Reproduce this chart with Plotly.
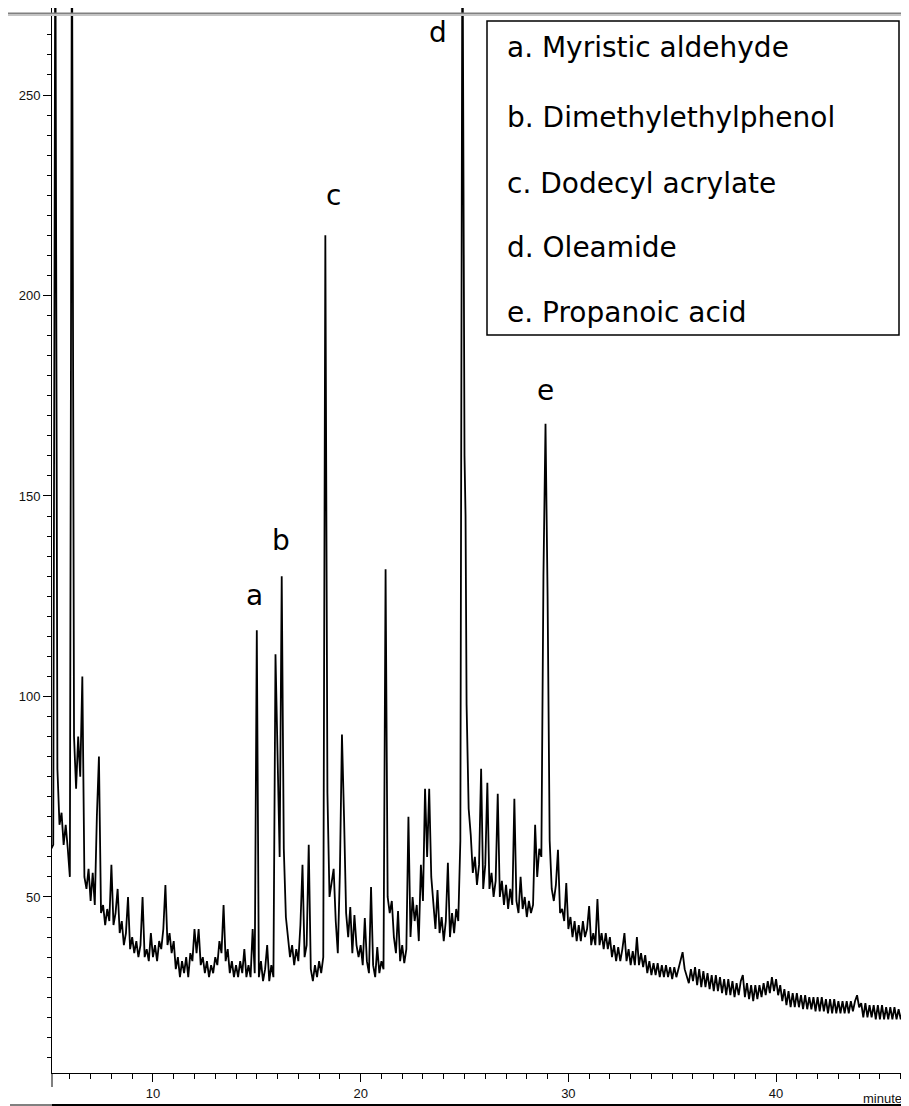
import plotly.graph_objects as go

# retention time (min) and detector response
time_min = [
    5.1, 5.2, 5.3, 5.4, 5.5, 5.6, 5.7, 5.8, 5.9, 6.0,
    6.1, 6.2, 6.3, 6.4, 6.5, 6.6, 6.7, 6.8, 6.9, 7.0,
    7.1, 7.2, 7.3, 7.4, 7.5, 7.6, 7.7, 7.8, 7.9, 8.0,
    8.1, 8.2, 8.3, 8.4, 8.5, 8.6, 8.7, 8.8, 8.9, 9.0,
    9.1, 9.2, 9.3, 9.4, 9.5, 9.6, 9.7, 9.8, 9.9, 10.0,
    10.1, 10.2, 10.3, 10.4, 10.5, 10.6, 10.7, 10.8, 10.9, 11.0,
    11.1, 11.2, 11.3, 11.4, 11.5, 11.6, 11.7, 11.8, 11.9, 12.0,
    12.1, 12.2, 12.3, 12.4, 12.5, 12.6, 12.7, 12.8, 12.9, 13.0,
    13.1, 13.2, 13.3, 13.4, 13.5, 13.6, 13.7, 13.8, 13.9, 14.0,
    14.1, 14.2, 14.3, 14.4, 14.5, 14.6, 14.7, 14.8, 14.9, 15.0,
    15.1, 15.2, 15.3, 15.4, 15.5, 15.6, 15.7, 15.8, 15.9, 16.0,
    16.1, 16.2, 16.3, 16.4, 16.5, 16.6, 16.7, 16.8, 16.9, 17.0,
    17.1, 17.2, 17.3, 17.4, 17.5, 17.6, 17.7, 17.8, 17.9, 18.0,
    18.1, 18.2, 18.3, 18.4, 18.5, 18.6, 18.7, 18.8, 18.9, 19.0,
    19.1, 19.2, 19.3, 19.4, 19.5, 19.6, 19.7, 19.8, 19.9, 20.0,
    20.1, 20.2, 20.3, 20.4, 20.5, 20.6, 20.7, 20.8, 20.9, 21.0,
    21.1, 21.2, 21.3, 21.4, 21.5, 21.6, 21.7, 21.8, 21.9, 22.0,
    22.1, 22.2, 22.3, 22.4, 22.5, 22.6, 22.7, 22.8, 22.9, 23.0,
    23.1, 23.2, 23.3, 23.4, 23.5, 23.6, 23.7, 23.8, 23.9, 24.0,
    24.1, 24.2, 24.3, 24.4, 24.5, 24.6, 24.7, 24.8, 24.9, 25.0,
    25.05, 25.1, 25.2, 25.3, 25.4, 25.5, 25.6, 25.7, 25.8, 25.9, 26.0,
    26.1, 26.2, 26.3, 26.4, 26.5, 26.6, 26.7, 26.8, 26.9, 27.0,
    27.1, 27.2, 27.3, 27.4, 27.5, 27.6, 27.7, 27.8, 27.9, 28.0,
    28.1, 28.2, 28.3, 28.4, 28.5, 28.6, 28.7, 28.8, 28.9, 29.0,
    29.1, 29.2, 29.3, 29.4, 29.5, 29.6, 29.7, 29.8, 29.9, 30.0,
    30.1, 30.2, 30.3, 30.4, 30.5, 30.6, 30.7, 30.8, 30.9, 31.0,
    31.1, 31.2, 31.3, 31.4, 31.5, 31.6, 31.7, 31.8, 31.9, 32.0,
    32.1, 32.2, 32.3, 32.4, 32.5, 32.6, 32.7, 32.8, 32.9, 33.0,
    33.1, 33.2, 33.3, 33.4, 33.5, 33.6, 33.7, 33.8, 33.9, 34.0,
    34.1, 34.2, 34.3, 34.4, 34.5, 34.6, 34.7, 34.8, 34.9, 35.0,
    35.1, 35.2, 35.3, 35.4, 35.5, 35.6, 35.7, 35.8, 35.9, 36.0,
    36.1, 36.2, 36.3, 36.4, 36.5, 36.6, 36.7, 36.8, 36.9, 37.0,
    37.1, 37.2, 37.3, 37.4, 37.5, 37.6, 37.7, 37.8, 37.9, 38.0,
    38.1, 38.2, 38.3, 38.4, 38.5, 38.6, 38.7, 38.8, 38.9, 39.0,
    39.1, 39.2, 39.3, 39.4, 39.5, 39.6, 39.7, 39.8, 39.9, 40.0,
    40.1, 40.2, 40.3, 40.4, 40.5, 40.6, 40.7, 40.8, 40.9, 41.0,
    41.1, 41.2, 41.3, 41.4, 41.5, 41.6, 41.7, 41.8, 41.9, 42.0,
    42.1, 42.2, 42.3, 42.4, 42.5, 42.6, 42.7, 42.8, 42.9, 43.0,
    43.1, 43.2, 43.3, 43.4, 43.5, 43.6, 43.7, 43.8, 43.9, 44.0,
    44.1, 44.2, 44.3, 44.4, 44.5, 44.6, 44.7, 44.8, 44.9, 45.0,
    45.1, 45.2, 45.3, 45.4, 45.5, 45.6, 45.7, 45.8, 45.9, 46.0,
    46.1, 46.2,
]

response = [
    62, 63, 300, 82, 68, 71, 63, 68, 62, 55,
    300, 90, 77, 90, 80, 105, 55, 52, 57, 49,
    56, 48, 70, 85, 46, 48, 43, 47, 44, 58,
    43, 46, 52, 41, 44, 38, 41, 50, 37, 40,
    36, 39, 35, 38, 50, 35, 37, 34, 41, 35,
    38, 34, 39, 37, 42, 53, 38, 41, 36, 39,
    32, 35, 30, 34, 31, 35, 30, 36, 34, 42,
    36, 42, 33, 35, 31, 34, 30, 33, 31, 35,
    33, 39, 36, 48, 34, 37, 31, 34, 30, 33,
    30, 34, 31, 37, 30, 33, 30, 42, 31, 116.5,
    30, 34, 29, 32, 38, 29, 33, 30, 110.5, 85,
    60, 130, 62, 45, 40, 35, 38, 33, 37, 34,
    43, 58, 35, 38, 63, 32, 29, 33, 30, 34,
    31, 35, 215, 76, 50, 54, 57, 44, 36, 56,
    90.5, 70, 46, 40, 47.5, 36, 45.5, 38, 35, 38,
    33, 44.75, 34, 31, 52.5, 33, 30, 37.5, 31, 34,
    32, 131.75, 50, 46, 49, 40, 36, 46.5, 34, 38,
    33.5, 37, 70, 40, 50, 44, 48, 39, 58, 49,
    77, 60, 77, 55, 48, 42, 51.75, 41, 45, 39,
    44, 58.5, 40, 46, 41, 47, 44, 64, 300, 160,
    145, 98, 72, 65.5, 56, 60, 53, 58, 82, 52, 58,
    78.5, 52, 56, 50, 54, 75.75, 50, 54, 48, 53,
    47, 52, 48, 74.5, 49, 46, 55, 47, 50, 45,
    49, 46, 48, 68, 55, 62, 60, 130, 168, 125,
    64, 52, 49, 53, 61.75, 46, 47, 44, 53.5, 42,
    45, 40, 44, 39, 43, 39, 44, 40, 42, 47.75,
    38, 41, 38, 49.5, 38, 41, 37, 41, 37, 40,
    35, 38, 34, 37.5, 34, 37, 41, 34, 37, 33,
    36.5, 33, 40, 33, 36, 32.5, 35.5, 31, 34, 30.5,
    33.5, 30.5, 33.5, 30, 33, 30, 33, 30, 32.5, 29.5,
    32.5, 30, 32, 34, 36.25, 32, 30.5, 28.5, 32, 29,
    32.5, 28, 32, 27.5, 31.5, 27.5, 31, 27, 30.5, 26.5,
    30.5, 26.5, 30, 26, 29.5, 25.5, 29.5, 25.5, 29, 25,
    28.5, 25.5, 29, 30.5, 25, 28.5, 24.5, 28, 24, 28,
    24.5, 28, 25, 28.5, 25.5, 29, 26, 30, 26.5, 29.5,
    25.5, 28, 24, 27, 23, 26.5, 22.5, 26, 22.5, 26,
    22.5, 25.5, 22, 25.5, 22, 25, 22, 25, 21.5, 25,
    21.5, 25, 21.5, 24.5, 21, 24.5, 21, 24.5, 21, 24,
    21, 24, 21, 24, 21, 24, 21.5, 24, 25.5, 22.5,
    23.5, 20, 23.5, 20, 23, 20, 23, 19.5, 23, 19.5,
    23, 19.5, 22.5, 19.5, 22.5, 19.5, 22.5, 19.5, 22, 19.5,
    22, 20,
]

peak_letters = ["a", "b", "c", "d", "e"]
letter_time = [14.87, 16.16, 18.67, 23.70, 28.90]
letter_level = [125.2, 139.0, 225.0, 265.7, 176.2]

compounds = [
    "a. Myristic aldehyde",
    "b. Dimethylethylphenol",
    "c. Dodecyl acrylate",
    "d. Oleamide",
    "e. Propanoic acid",
]

x_range = [5.14, 46.40]
y_range = [6.1, 271.7]
y_major = [50, 100, 150, 200, 250]

# the page body puts the figure 8px in from the window corner
OFF = 8
W, H = 909 - OFF, 1106 - OFF
L, B = 52 - OFF, 33
plot_w, plot_h = W - L, H - B


def px(x):
    # window pixel -> paper fraction
    return (x - OFF - L) / plot_w


def py(y):
    return (plot_h - (y - OFF)) / plot_h


fig = go.Figure()
fig.add_trace(go.Scatter(
    x=time_min, y=response, mode="lines",
    line=dict(color="black", width=1.8),
    showlegend=False, hoverinfo="skip",
))
# only there so the right-hand tick axis gets drawn
fig.add_trace(go.Scatter(
    x=[time_min[0]], y=[response[0]], yaxis="y2", mode="lines",
    line=dict(width=0), showlegend=False, hoverinfo="skip",
))

tick_font = dict(family="Liberation Sans, Arial", size=13, color="#111")
label_font = dict(family="DejaVu Sans", size=28, color="black")

fig.update_layout(
    width=W, height=H,
    margin=dict(l=L, r=0, t=0, b=B),
    plot_bgcolor="white", paper_bgcolor="white",
    xaxis=dict(
        range=x_range, showline=True, linecolor="black", linewidth=1,
        ticks="outside", ticklen=8, tickcolor="black", tick0=0, dtick=10,
        minor=dict(dtick=1, ticks="outside", ticklen=5, tickcolor="black"),
        showgrid=False, zeroline=False, tickfont=tick_font,
    ),
    yaxis=dict(
        range=y_range, showline=True, linecolor="black", linewidth=1,
        ticks="outside", ticklen=8, tickcolor="black", tick0=0, dtick=50,
        minor=dict(dtick=5, ticks="outside", ticklen=4, tickcolor="black"),
        showgrid=False, zeroline=False, tickfont=tick_font,
    ),
    yaxis2=dict(
        range=y_range, overlaying="y", side="right", anchor="free",
        position=0.9965, showline=False, showgrid=False, zeroline=False,
        tickvals=y_major, ticks="inside", ticklen=3, tickcolor="black",
        showticklabels=False,
    ),
)

shapes = [
    # screen-capture edges
    dict(type="rect", xref="paper", yref="paper", x0=px(OFF), x1=px(909), y0=py(14), y1=py(12.5),
         fillcolor="#808080", line_width=0, layer="above"),
    dict(type="rect", xref="paper", yref="paper", x0=px(OFF), x1=px(909), y0=py(16), y1=py(14),
         fillcolor="#c4c4c4", line_width=0, layer="above"),
    dict(type="rect", xref="paper", yref="paper", x0=px(10), x1=px(52), y0=py(1106), y1=py(1104),
         fillcolor="#808080", line_width=0),
    dict(type="rect", xref="paper", yref="paper", x0=px(52), x1=px(909), y0=py(1106), y1=py(1104),
         fillcolor="black", line_width=0),
    # y axis runs on below the time axis
    dict(type="line", xref="paper", yref="paper", x0=0, x1=0, y0=py(1087), y1=0,
         line=dict(color="black", width=1)),
    # key box
    dict(type="rect", xref="paper", yref="paper", x0=px(487), x1=px(899), y0=py(335), y1=py(21),
         fillcolor="white", line=dict(color="black", width=1.5), layer="above"),
]
fig.update_layout(shapes=shapes)

key_rows = [48, 117, 184, 247, 312]
for name, yc in zip(compounds, key_rows):
    fig.add_annotation(x=px(505), y=py(yc), xref="paper", yref="paper", text=name,
                       showarrow=False, xanchor="left", yanchor="middle", font=label_font)

for letter, t, lvl in zip(peak_letters, letter_time, letter_level):
    fig.add_annotation(x=t, y=lvl, text=letter, showarrow=False,
                       xanchor="center", yanchor="middle", font=label_font)

fig.add_annotation(x=px(861), y=py(1098), xref="paper", yref="paper", text="minutes",
                   showarrow=False, xanchor="left", yanchor="middle",
                   font=dict(family="Liberation Sans, Arial", size=13, color="#111"))

fig.write_html("out.html")
